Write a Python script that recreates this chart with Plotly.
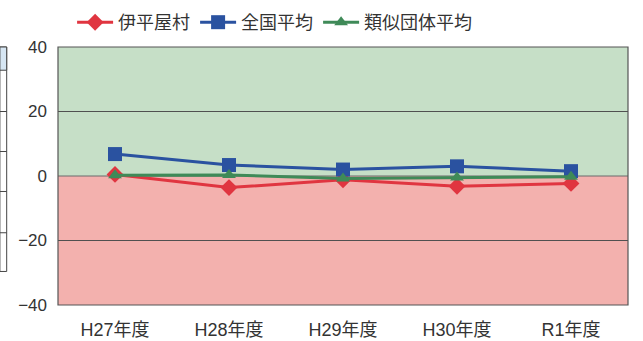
import plotly.graph_objects as go

# Fiscal years and ratio values (%)
years = ["H27年度", "H28年度", "H29年度", "H30年度", "R1年度"]
iheya = [0.5, -3.6, -1.2, -3.2, -2.3]
national_avg = [6.8, 3.4, 2.0, 3.0, 1.5]
similar_avg = [0.2, 0.3, -0.8, -0.5, -0.2]

series = [
    ("伊平屋村", iheya, "#e03540", "diamond", 13),
    ("全国平均", national_avg, "#2a52a0", "square", 14),
    ("類似団体平均", similar_avg, "#3f8a58", "triangle-up", 12),
]

fig = go.Figure()

for name, vals, color, symbol, size in series:
    fig.add_trace(go.Scatter(
        x=years, y=vals, name=name, mode="lines+markers",
        line=dict(color=color, width=3),
        marker=dict(symbol=symbol, size=size, color=color),
    ))

# Positive band (green) and negative band (pink)
fig.add_shape(type="rect", xref="paper", yref="y", x0=0, x1=1, y0=0, y1=40,
              fillcolor="#c6dfc7", line_width=0, layer="below")
fig.add_shape(type="rect", xref="paper", yref="y", x0=0, x1=1, y0=-40, y1=0,
              fillcolor="#f3b1ae", line_width=0, layer="below")
for yv in (20, -20):
    fig.add_shape(type="line", xref="paper", yref="y", x0=0, x1=1, y0=yv, y1=yv,
                  line=dict(color="#505050", width=1), layer="below")
fig.add_shape(type="line", xref="paper", yref="y", x0=0, x1=1, y0=0, y1=0,
              line=dict(color="#6a6a6a", width=1), layer="below")
fig.add_shape(type="rect", xref="paper", yref="paper", x0=0, x1=1, y0=0, y1=1,
              line=dict(color="#555555", width=1.2))

# Edge of the neighbouring table at the left margin
fig.add_shape(type="rect", xref="paper", yref="paper", x0=-0.102, x1=-0.09,
              y0=0.13, y1=1.0, fillcolor="white", line=dict(color="#444444", width=1))
fig.add_shape(type="rect", xref="paper", yref="paper", x0=-0.102, x1=-0.09,
              y0=0.91, y1=1.0, fillcolor="#d6e6f3", line=dict(color="#444444", width=1))
for yp in (0.75, 0.595, 0.44, 0.28):
    fig.add_shape(type="line", xref="paper", yref="paper", x0=-0.102, x1=-0.09,
                  y0=yp, y1=yp, line=dict(color="#444444", width=1))

fig.update_layout(
    width=643, height=341,
    margin=dict(l=58, r=15, t=47, b=36, autoexpand=False),
    paper_bgcolor="white",
    plot_bgcolor="white",
    font=dict(family="Noto Sans CJK JP, Liberation Sans, sans-serif", color="#333333"),
    showlegend=True,
    legend=dict(orientation="h", x=0.38, xanchor="center", y=1.095, yanchor="middle",
                font=dict(size=18, color="#333333"), itemwidth=36,
                bgcolor="rgba(0,0,0,0)"),
)
fig.update_xaxes(range=[-0.5, 4.5], showgrid=False, zeroline=False, showline=False,
                 tickfont=dict(size=18, family="Liberation Sans, Noto Sans CJK JP"),
                 ticks="", ticklabelstandoff=12, automargin=False)
fig.update_yaxes(range=[-40, 40], dtick=20, showgrid=False, zeroline=False,
                 showline=False, tickfont=dict(size=17, family="Liberation Sans"),
                 ticks="", ticklabelstandoff=10, automargin=False)

fig.write_html("out.html")
